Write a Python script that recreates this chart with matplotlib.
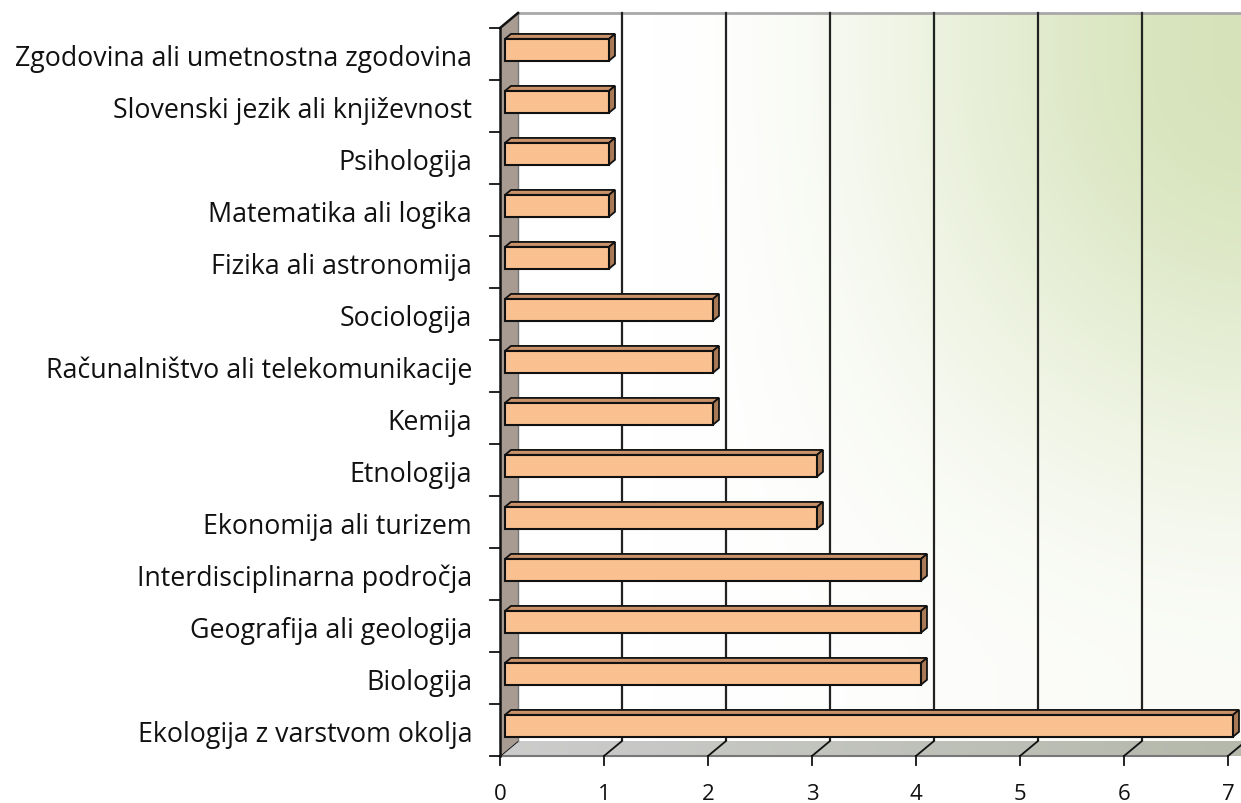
import numpy as np
import matplotlib
matplotlib.use("Agg")
import matplotlib.pyplot as plt
from matplotlib.patches import Polygon, Rectangle

# data (bottom to top)
categories = [
    "Ekologija z varstvom okolja",
    "Biologija",
    "Geografija ali geologija",
    "Interdisciplinarna področja",
    "Ekonomija ali turizem",
    "Etnologija",
    "Kemija",
    "Računalništvo ali telekomunikacije",
    "Sociologija",
    "Fizika ali astronomija",
    "Matematika ali logika",
    "Psihologija",
    "Slovenski jezik ali književnost",
    "Zgodovina ali umetnostna zgodovina",
]
values = [7, 4, 4, 4, 3, 3, 2, 2, 2, 1, 1, 1, 1, 1]
xticks = [0, 1, 2, 3, 4, 5, 6, 7]

plt.rcParams['font.family'] = ['Open Sans', 'DejaVu Sans']

W, H = 1241, 804
fig = plt.figure(figsize=(W / 100, H / 100), dpi=100)
ax = fig.add_axes([0, 0, 1, 1])
ax.axis("off")

# pixel geometry of the 3D box
x0_px, ux = 500, 104.0   # front plane x=0, px per unit
y0_px, uy = 47, 52.0     # front floor edge from bottom, px per category
ax.set_xlim(-x0_px / ux, (W - x0_px) / ux)
ax.set_ylim(-y0_px / uy, (H - y0_px) / uy)

n = len(categories)
xmax = 7
DX = 18 / ux
DY = 15 / uy


def smooth(t):
    t = np.clip(t, 0, 1)
    return t * t * (3 - 2 * t)


# back wall gradient (green at top-right fading to white)
gx = np.linspace(0, 1, 400)
gy = np.linspace(0, 1, 400)
GX, GY = np.meshgrid(gx, gy)
fx = smooth((GX - 0.18) / 0.8)
fy = 0.12 + 0.88 * smooth((GY - 0.08) / 0.85)
f = fx * fy
white = np.array([1.0, 1.0, 1.0])
green = np.array([0.84, 0.89, 0.73])
img = white[None, None, :] * (1 - f[..., None]) + green[None, None, :] * f[..., None]
ax.imshow(img, origin="lower", extent=[DX, xmax + DX + 0.2, DY, n + DY],
          aspect="auto", zorder=0, interpolation="bilinear")
ax.plot([DX, xmax + DX + 0.5], [n + DY, n + DY], color="#a8a8a8", lw=2, zorder=1)

# back wall gridlines
for k in xticks[1:]:
    ax.plot([k + DX, k + DX], [DY, n + DY], color="#222222", lw=1.6, zorder=1)

# floor
fg = np.linspace(0, 1, 300)[None, :]
floor_img = np.stack([0.80 - 0.10 * fg, 0.80 - 0.08 * fg, 0.80 - 0.14 * fg], axis=-1)
floor = Polygon([(0, 0), (xmax + 0.5, 0), (xmax + 0.5 + DX, DY), (DX, DY)],
                closed=True, facecolor="none", edgecolor="none")
ax.add_patch(floor)
im2 = ax.imshow(floor_img, origin="lower", extent=[0, xmax + DX + 0.5, 0, DY],
                aspect="auto", zorder=1)
im2.set_clip_path(floor)
ax.plot([0, xmax], [0, 0], color="#777777", lw=1.5, zorder=2)
for k in xticks:
    ax.plot([k, k + DX], [0, DY], color="#111111", lw=1.3, zorder=2)
    ax.plot([k, k], [0, -9 / uy], color="#111111", lw=1.3, zorder=2)
    ax.text(k, -0.72, str(k), ha="center", va="center", fontsize=16, color="#111111")

# left wall
ax.add_patch(Polygon([(0, 0), (DX, DY), (DX, n + DY), (0, n)], closed=True,
                     facecolor="#a89b92", edgecolor="none", zorder=2))
ax.plot([DX, DX], [DY, n + DY], color="#777777", lw=1, zorder=2)
ax.plot([0, 0], [0, n], color="#111111", lw=1.8, zorder=3)
ax.plot([0, DX], [n, n + DY], color="#111111", lw=1.8, zorder=3)
for k in range(n + 1):
    ax.plot([-10 / ux, 0], [k, k], color="#111111", lw=1.3, zorder=3)

# bars
t0, bd = 0.28, 0.33
bh = 0.42
front_c, top_c, side_c = "#fac090", "#c8926a", "#a97a55"
for i, (cat, v) in enumerate(zip(categories, values)):
    xa = t0 * DX
    xb = v + t0 * DX
    yb = i + 0.5 - bh / 2 + t0 * DY
    yt = yb + bh
    ox, oy = bd * DX, bd * DY
    ax.add_patch(Polygon([(xa, yt), (xb, yt), (xb + ox, yt + oy), (xa + ox, yt + oy)],
                         closed=True, facecolor=top_c, edgecolor="#111111", lw=1.3, zorder=4))
    ax.add_patch(Polygon([(xb, yb), (xb, yt), (xb + ox, yt + oy), (xb + ox, yb + oy)],
                         closed=True, facecolor=side_c, edgecolor="#111111", lw=1.3, zorder=4))
    ax.add_patch(Rectangle((xa, yb), xb - xa, bh, facecolor=front_c,
                           edgecolor="#111111", lw=1.5, zorder=5))
    ax.text(-28 / ux, i + 0.43, cat, ha="right", va="center", fontsize=19.3, color="#111111")

fig.savefig("out.png", dpi=100)
